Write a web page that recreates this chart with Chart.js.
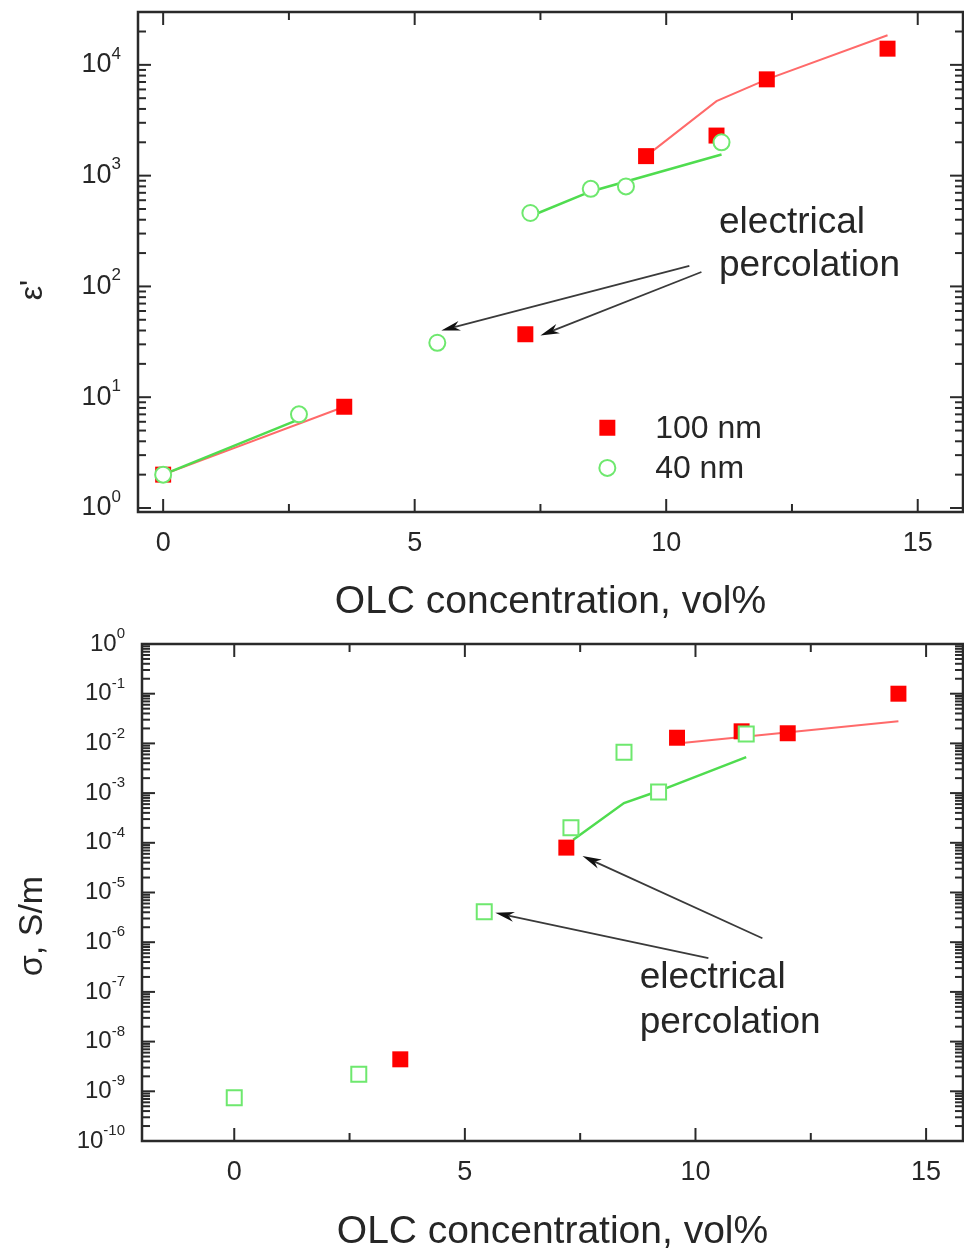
<!doctype html>
<html lang="en">
  <head>
    <meta charset="UTF-8" />
    <title>OLC concentration: permittivity and conductivity</title>
    <script src="https://cdn.jsdelivr.net/npm/chart.js"></script>
    <style>
      body { margin: 0; background: #fff; }
      canvas { display: block; }
    </style>
  </head>
  <body>
    <canvas id="epsChart" width="964" height="622"></canvas>
    <canvas id="sigmaChart" width="964" height="630"></canvas>
    <script>
      // OLC concentration, vol%
      const epsX100 = [0, 3.6, 7.2, 9.6, 11.0, 12.0, 14.4]
      const epsX40 = [0, 2.7, 5.45, 7.3, 8.5, 9.2, 11.1]
      // dielectric permittivity eps'
      const eps100 = [2.0, 8.2, 37, 1500, 2300, 7400, 14000]
      const eps40 = [2.0, 7.0, 31, 460, 760, 800, 2000]
      // fitted curves (two branches each)
      const epsFit100aX = [0, 3.6]
      const epsFit100a = [2.0, 8.2]
      const epsFit100bX = [9.6, 11.0, 12.0, 14.4]
      const epsFit100b = [1500, 4700, 7400, 18500]
      const epsFit40aX = [0, 2.7]
      const epsFit40a = [2.0, 6.3]
      const epsFit40bX = [7.3, 8.5, 11.1]
      const epsFit40b = [430, 720, 1550]

      // conductivity sigma, S/m
      const sigX100 = [3.6, 7.2, 9.6, 11.0, 12.0, 14.4]
      const sigX40 = [0, 2.7, 5.42, 7.3, 8.45, 9.2, 11.1]
      const sig100 = [4.4e-9, 8e-5, 1.3e-2, 1.75e-2, 1.6e-2, 0.1]
      const sig40 = [7.4e-10, 2.2e-9, 4.1e-6, 2.0e-4, 6.6e-3, 1.05e-3, 1.55e-2]
      const sigFit100X = [9.6, 14.4]
      const sigFit100 = [1.0e-2, 2.8e-2]
      const sigFit40X = [7.35, 8.45, 9.2, 11.1]
      const sigFit40 = [1.15e-4, 6.3e-4, 1.1e-3, 5.3e-3]

      // tick labels
      const xTicks = [0, 5, 10, 15]
      const epsDecades = [0, 1, 2, 3, 4]
      const sigDecades = [0, -1, -2, -3, -4, -5, -6, -7, -8, -9, -10]

      const family = '"Liberation Sans", Arial, sans-serif'
      const ink = '#262626'
      const red = '#ff0000'
      const green = '#6ee86e'

      const pairs = (xs, ys) => xs.map((x, i) => ({ x: x, y: ys[i] }))

      const line = (ctx, x0, y0, x1, y1) => {
        ctx.beginPath()
        ctx.moveTo(x0, y0)
        ctx.lineTo(x1, y1)
        ctx.stroke()
      }

      const arrow = (ctx, x0, y0, x1, y1) => {
        const a = Math.atan2(y1 - y0, x1 - x0)
        const c = Math.cos(a), s = Math.sin(a)
        const hl = 19, hw = 5
        line(ctx, x0, y0, x1 - c * hl * 0.7, y1 - s * hl * 0.7)
        ctx.beginPath()
        ctx.moveTo(x1, y1)
        ctx.lineTo(x1 - c * hl - s * hw, y1 - s * hl + c * hw)
        ctx.lineTo(x1 - c * hl * 0.7, y1 - s * hl * 0.7)
        ctx.lineTo(x1 - c * hl + s * hw, y1 - s * hl - c * hw)
        ctx.closePath()
        ctx.fill()
      }

      const marker = (ctx, ds, x, y) => {
        ctx.save()
        ctx.lineWidth = ds.borderWidth || 0
        ctx.strokeStyle = ds.borderColor
        ctx.fillStyle = ds.backgroundColor
        ctx.beginPath()
        if (ds.pointStyle === 'rect') {
          const h = ds.pointRadius * Math.SQRT1_2
          ctx.rect(x - h, y - h, 2 * h, 2 * h)
        } else {
          ctx.arc(x, y, ds.pointRadius, 0, Math.PI * 2)
        }
        ctx.fill()
        if (ds.borderWidth) ctx.stroke()
        ctx.restore()
      }

      // frame with inward ticks, log tick labels, y title, arrows, notes, legend
      const frameTicks = {
        id: 'frameTicks',
        afterDraw(chart, args, o) {
          const { ctx, chartArea: a, scales: { x, y } } = chart
          ctx.save()
          ctx.strokeStyle = '#2a2a2a'
          ctx.lineWidth = 2.5
          ctx.strokeRect(a.left, a.top, a.right - a.left, a.bottom - a.top)
          ctx.lineWidth = 2

          for (let v = Math.ceil(x.min / 2.5) * 2.5; v <= x.max; v += 2.5) {
            const px = x.getPixelForValue(v)
            const len = v % 5 === 0 ? o.major : o.minor
            line(ctx, px, a.bottom, px, a.bottom - len)
            line(ctx, px, a.top, px, a.top + len)
          }
          const d0 = Math.floor(Math.log10(y.min))
          const d1 = Math.ceil(Math.log10(y.max))
          for (let d = d0; d <= d1; d++) {
            for (let m = 1; m < 10; m++) {
              const v = m * Math.pow(10, d)
              if (v < y.min * 0.999 || v > y.max * 1.001) continue
              const py = y.getPixelForValue(v)
              const len = m === 1 ? o.major : o.minor
              line(ctx, a.left, py, a.left + len, py)
              line(ctx, a.right, py, a.right - len, py)
            }
          }

          ctx.fillStyle = ink
          ctx.textBaseline = 'middle'
          o.decades.forEach((d) => {
            const py = y.getPixelForValue(Math.pow(10, d))
            const xr = a.left - o.labelGap
            ctx.font = `${o.supSize}px ${family}`
            const sup = String(d)
            const sw = ctx.measureText(sup).width
            ctx.textAlign = 'left'
            ctx.fillText(sup, xr - sw, py - o.raise)
            ctx.font = `${o.labelSize}px ${family}`
            ctx.textAlign = 'right'
            ctx.fillText('10', xr - sw, py)
          })

          ctx.save()
          ctx.translate(o.title.x, o.title.y)
          ctx.rotate(-Math.PI / 2)
          ctx.textAlign = 'center'
          ctx.font = `${o.title.size}px ${family}`
          ctx.fillText(o.title.text, 0, 0)
          ctx.restore()

          ctx.strokeStyle = '#3a3a3a'
          ctx.fillStyle = '#111'
          ctx.lineWidth = 1.8
          o.arrows.forEach((r) => {
            arrow(ctx, x.getPixelForValue(r.from[0]), y.getPixelForValue(r.from[1]),
              x.getPixelForValue(r.to[0]), y.getPixelForValue(r.to[1]))
          })

          ctx.fillStyle = ink
          ctx.textAlign = 'left'
          ctx.textBaseline = 'alphabetic'
          ctx.font = `${o.noteSize}px ${family}`
          o.notes.forEach((n) => {
            ctx.fillText(n.text, x.getPixelForValue(n.x), y.getPixelForValue(n.y))
          })

          if (o.legend) {
            ctx.textBaseline = 'middle'
            ctx.font = `${o.legend.size}px ${family}`
            o.legend.rows.forEach((r) => {
              const ds = chart.data.datasets[r.dataset]
              const py = y.getPixelForValue(r.y)
              marker(ctx, ds, x.getPixelForValue(o.legend.x), py)
              ctx.fillStyle = ink
              ctx.fillText(ds.label, x.getPixelForValue(o.legend.textX), py + 1)
            })
          }
          ctx.restore()
        }
      }

      const xScale = (min, max, height) => ({
        type: 'linear',
        min: min,
        max: max,
        afterFit: (s) => { s.height = height },
        // tick marks are drawn by the plugin; tickLength only pushes the labels down
        grid: { display: false, drawTicks: true, tickLength: 15 },
        border: { display: false },
        ticks: {
          stepSize: 5,
          includeBounds: false,
          padding: 0,
          color: ink,
          font: { family: family, size: 27 },
          callback: (v) => (xTicks.includes(v) ? v : null)
        },
        title: {
          display: true,
          text: 'OLC concentration, vol%',
          color: ink,
          font: { family: family, size: 39, lineHeight: 1 },
          padding: 0
        }
      })

      const yScale = (min, max, width) => ({
        type: 'logarithmic',
        min: min,
        max: max,
        afterFit: (s) => { s.width = width },
        grid: { display: false },
        border: { display: false },
        ticks: { display: false }
      })

      const redSquares = { pointStyle: 'rect', pointRadius: 11.3, backgroundColor: red, borderWidth: 0, showLine: false }
      const fitRed = { showLine: true, pointRadius: 0, borderColor: '#ff6a6a', borderWidth: 2, order: 3 }
      const fitGreen = { showLine: true, pointRadius: 0, borderColor: '#4fdc4f', borderWidth: 2.5, order: 2 }

      new Chart(document.getElementById('epsChart'), {
        type: 'scatter',
        data: {
          datasets: [
            { label: '40 nm', data: pairs(epsX40, eps40), pointStyle: 'circle', pointRadius: 8, borderWidth: 2,
              borderColor: green, backgroundColor: '#ffffff', showLine: false, order: 0 },
            { label: '100 nm', data: pairs(epsX100, eps100), ...redSquares, order: 1 },
            { label: 'fit 100a', data: pairs(epsFit100aX, epsFit100a), ...fitRed },
            { label: 'fit 100b', data: pairs(epsFit100bX, epsFit100b), ...fitRed },
            { label: 'fit 40a', data: pairs(epsFit40aX, epsFit40a), ...fitGreen },
            { label: 'fit 40b', data: pairs(epsFit40bX, epsFit40b), ...fitGreen }
          ]
        },
        options: {
          responsive: false,
          animation: false,
          layout: { autoPadding: false, padding: { top: 12, right: 1, left: 0, bottom: 0 } },
          plugins: {
            legend: { display: false },
            tooltip: { enabled: false },
            frameTicks: {
              major: 13,
              minor: 8,
              decades: epsDecades,
              labelSize: 27,
              supSize: 17,
              raise: 11,
              labelGap: 17,
              title: { text: "ε'", x: 33, y: 290, size: 32 },
              arrows: [
                { from: [10.46, 153], to: [5.53, 40] },
                { from: [10.7, 135], to: [7.5, 36] }
              ],
              noteSize: 37,
              notes: [
                { text: 'electrical', x: 11.05, y: 304 },
                { text: 'percolation', x: 11.05, y: 124 }
              ],
              legend: {
                size: 32,
                x: 8.83,
                textX: 9.78,
                rows: [
                  { dataset: 1, y: 5.3 },
                  { dataset: 0, y: 2.3 }
                ]
              }
            }
          },
          scales: {
            x: xScale(-0.5, 15.9, 110),
            y: yScale(0.92, 30000, 138)
          }
        },
        plugins: [frameTicks]
      })

      new Chart(document.getElementById('sigmaChart'), {
        type: 'scatter',
        data: {
          datasets: [
            { label: '40 nm', data: pairs(sigX40, sig40), pointStyle: 'rect', pointRadius: 10.6, borderWidth: 2,
              borderColor: green, backgroundColor: '#ffffff', showLine: false, order: 0 },
            { label: '100 nm', data: pairs(sigX100, sig100), ...redSquares, order: 1 },
            { label: 'fit 100', data: pairs(sigFit100X, sigFit100), ...fitRed },
            { label: 'fit 40', data: pairs(sigFit40X, sigFit40), ...fitGreen }
          ]
        },
        options: {
          responsive: false,
          animation: false,
          layout: { autoPadding: false, padding: { top: 22, right: 1, left: 0, bottom: 0 } },
          plugins: {
            legend: { display: false },
            tooltip: { enabled: false },
            frameTicks: {
              major: 13,
              minor: 8,
              decades: sigDecades,
              labelSize: 24,
              supSize: 15,
              raise: 10,
              labelGap: 17,
              title: { text: 'σ, S/m', x: 33, y: 304, size: 34 },
              arrows: [
                { from: [11.45, 1.2e-6], to: [7.55, 5.4e-5] },
                { from: [10.28, 4.8e-7], to: [5.66, 3.9e-6] }
              ],
              noteSize: 37,
              notes: [
                { text: 'electrical', x: 8.79, y: 1.2e-7 },
                { text: 'percolation', x: 8.79, y: 1.5e-8 }
              ]
            }
          },
          scales: {
            x: xScale(-2, 15.8, 111),
            y: yScale(1e-10, 1, 142)
          }
        },
        plugins: [frameTicks]
      })
    </script>
  </body>
</html>
